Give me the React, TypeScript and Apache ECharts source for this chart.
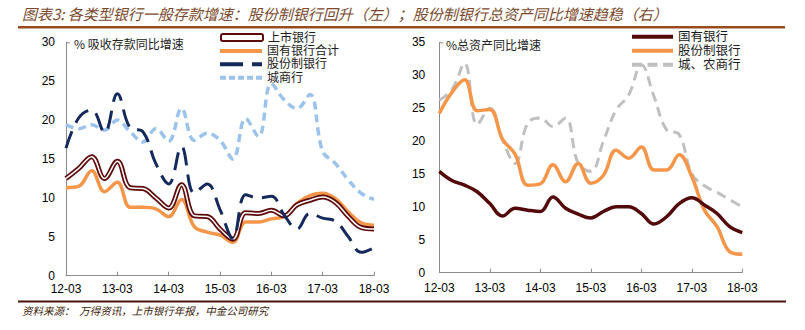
import React, { useEffect, useRef } from "react";
import * as echarts from "echarts";

const categories = [
  "12-03", "12-06", "12-09", "12-12",
  "13-03", "13-06", "13-09", "13-12",
  "14-03", "14-06", "14-09", "14-12",
  "15-03", "15-06", "15-09", "15-12",
  "16-03", "16-06", "16-09", "16-12",
  "17-03", "17-06", "17-09", "17-12",
  "18-03",
];

// Left panel: 吸收存款同比增速 (%)
const listedBanks = [12.5, 13.8, 15.3, 12.5, 14.7, 11.3, 11.2, 10.0, 8.7, 11.7, 7.7, 7.6, 6.0, 4.7, 8.1, 8.0, 8.4, 7.7, 9.1, 9.7, 10.1, 9.4, 7.6, 6.2, 6.0];
const stateOwnedTotal = [11.3, 11.5, 13.5, 10.8, 12.0, 8.8, 8.8, 8.6, 7.6, 9.8, 6.3, 5.6, 5.2, 4.3, 6.9, 6.9, 7.3, 7.6, 9.3, 10.3, 10.6, 9.9, 8.2, 6.8, 6.5];
const jointStockDeposit = [16.4, 20.3, 21.3, 18.4, 23.4, 19.0, 18.5, 14.4, 11.8, 16.6, 10.6, 11.8, 8.5, 4.8, 10.4, 10.0, 10.2, 7.8, 6.0, 8.0, 7.4, 7.0, 5.0, 3.0, 3.6];
const cityCommercial = [19.4, 18.9, 19.4, 18.7, 20.0, 18.5, 17.2, 18.9, 17.3, 21.5, 17.4, 18.3, 17.4, 15.0, 20.2, 17.9, 24.7, 22.6, 21.5, 23.3, 16.0, 14.4, 12.3, 10.6, 9.8];

// Right panel: 总资产同比增速 (%)
const stateOwnedAssets = [15.4, 14.0, 13.3, 12.3, 10.5, 8.6, 9.8, 9.5, 9.3, 11.5, 9.8, 8.9, 8.3, 9.3, 10.0, 10.0, 9.0, 7.4, 8.5, 10.5, 11.4, 10.3, 9.0, 7.0, 6.1];
const jointStockAssets = [24.2, 27.4, 29.3, 24.6, 24.8, 20.3, 18.0, 13.3, 13.5, 16.4, 13.8, 16.6, 13.6, 14.8, 18.6, 17.4, 19.1, 15.6, 15.6, 17.9, 14.6, 9.5, 7.0, 3.2, 2.8];
const cityRuralAssets = [26.2, 27.8, 31.8, 22.5, 25.0, 20.2, 16.6, 22.7, 23.5, 22.2, 23.5, 16.6, 15.4, 20.0, 24.7, 27.0, 31.6, 26.8, 21.7, 21.0, 15.0, 13.2, 12.2, 11.1, 10.0];

const TITLE = "图表3: 各类型银行一般存款增速：股份制银行回升（左）；股份制银行总资产同比增速趋稳（右）";
const SOURCE = "资料来源：  万得资讯，上市银行年报，中金公司研究";
const LEFT_NOTE = "% 吸收存款同比增速";
const RIGHT_NOTE = "%总资产同比增速";

const CJK = "'Noto Sans CJK SC', 'Noto Sans', sans-serif";
const LEG = "'Liberation Sans', 'Noto Sans CJK SC', sans-serif";
const NUM = "'Liberation Sans', Arial, sans-serif";

const C = {
  maroon: "#5c0a0a",
  maroonR: "#530909",
  orange: "#f5964a",
  navy: "#14295c",
  lightBlue: "#9cc3eb",
  grey: "#c0c0c0",
  axis: "#8c8c8c",
};

function legendItem(name: string, left: number, top: number, width: number, height: number, icon: string, itemStyle: any, fontSize: number) {
  return {
    orient: "vertical",
    left,
    top,
    padding: 0,
    itemWidth: width,
    itemHeight: height,
    selectedMode: false,
    symbolKeepAspect: false,
    textStyle: { fontSize, fontFamily: LEG, color: "#1a1a1a", lineHeight: fontSize },
    data: [{ name, icon, itemStyle }],
  };
}

function xAxis(gridIndex: number, margin: number) {
  return {
    type: "category",
    gridIndex,
    data: categories,
    boundaryGap: false,
    axisLine: { lineStyle: { color: C.axis, width: 1 } },
    axisTick: { show: true, inside: true, length: 4, interval: 3, lineStyle: { color: C.axis } },
    axisLabel: { interval: 3, fontSize: 12, color: "#000", fontFamily: NUM, margin },
    splitLine: { show: false },
  };
}

function yAxis(gridIndex: number, max: number, margin: number) {
  return {
    type: "value",
    gridIndex,
    min: 0,
    max,
    interval: 5,
    axisLine: { show: true, lineStyle: { color: C.axis, width: 1 } },
    axisTick: { show: false },
    axisLabel: { fontSize: 12, color: "#000", fontFamily: NUM, margin },
    splitLine: { show: false },
  };
}

function line(name: string, data: number[], idx: number, color: string, width: number, type: any, z = 2) {
  return {
    type: "line",
    name,
    data,
    xAxisIndex: idx,
    yAxisIndex: idx,
    smooth: 0.4,
    symbol: "none",
    showSymbol: false,
    z,
    itemStyle: { color },
    lineStyle: { color, width, type, cap: "butt", join: "round" },
    emphasis: { disabled: true },
  };
}

export default function App() {
  const ref = useRef<HTMLDivElement>(null);

  useEffect(() => {
    if (!ref.current) return;
    const chart = echarts.init(ref.current, null, { renderer: "svg" });
    const option: any = {
      animation: false,
      backgroundColor: "#ffffff",
      grid: [
        { left: 66, top: 42.3, width: 308, height: 233.4 },
        { left: 439.3, top: 42.3, width: 303, height: 230.4 },
      ],
      xAxis: [xAxis(0, 7), xAxis(1, 9)],
      yAxis: [yAxis(0, 30, 11), yAxis(1, 35, 14)],
      legend: [
        legendItem("上市银行", 220, 31.5, 42, 7, "roundRect", { color: "#ffffff", borderColor: C.maroon, borderWidth: 2 }, 12),
        legendItem("国有银行合计", 220, 44.9, 42, 4, "path://M0,0h42v4h-42z", { color: C.orange, borderWidth: 0 }, 12),
        legendItem("股份制银行", 220, 58.3, 42, 4, "path://M0,0h23v4h-23z M32,0h10v4h-10z", { color: C.navy, borderWidth: 0 }, 12),
        legendItem("城商行", 220, 71.7, 42, 4, "path://M0,0h6v4h-6z M9,0h6v4h-6z M18,0h6v4h-6z M27,0h6v4h-6z M36,0h6v4h-6z", { color: C.lightBlue, borderWidth: 0 }, 12),
        legendItem("国有银行", 632, 30.5, 41, 4, "path://M0,0h41v4h-41z", { color: C.maroonR, borderWidth: 0 }, 12.5),
        legendItem("股份制银行", 632, 44.5, 41, 4, "path://M0,0h41v4h-41z", { color: C.orange, borderWidth: 0 }, 12.5),
        legendItem("城、农商行", 632, 58.5, 41, 4, "path://M0,0h9v4h-9z M14,0h9v4h-9z M28,0h9v4h-9z", { color: C.grey, borderWidth: 0 }, 12.5),
      ],
      series: [
        line("城商行", cityCommercial, 0, C.lightBlue, 3.5, [8, 5], 2),
        line("国有银行合计", stateOwnedTotal, 0, C.orange, 3.5, "solid", 3),
        line("上市银行", listedBanks, 0, C.maroon, 5, "solid", 4),
        line("上市银行内线", listedBanks, 0, "#ffffff", 1.5, "solid", 5),
        line("股份制银行", jointStockDeposit, 0, C.navy, 3, [18, 9], 6),
        line("城、农商行", cityRuralAssets, 1, C.grey, 3, [10, 6], 2),
        line("股份制银行", jointStockAssets, 1, C.orange, 3.5, "solid", 3),
        line("国有银行", stateOwnedAssets, 1, C.maroonR, 3.5, "solid", 4),
      ],
      graphic: [
        {
          type: "text",
          left: 22,
          top: 6,
          style: { text: TITLE, fontSize: 15, fontStyle: "italic", fontFamily: CJK, fill: "#7b4a2e" },
        },
        { type: "rect", shape: { x: 18, y: 26, width: 767, height: 2.5 }, style: { fill: "#9b4a1c" } },
        { type: "rect", shape: { x: 18, y: 300.5, width: 768, height: 2 }, style: { fill: "#4b1010" } },
        {
          type: "text",
          left: 22,
          top: 305,
          style: { text: SOURCE, fontSize: 10.5, fontStyle: "italic", fontFamily: CJK, fill: "#3b1a0a" },
        },
        {
          type: "text",
          left: 74,
          top: 37,
          style: { text: LEFT_NOTE, fontSize: 12, fontFamily: CJK, fill: "#222" },
        },
        {
          type: "text",
          left: 446,
          top: 38,
          style: { text: RIGHT_NOTE, fontSize: 12, fontFamily: CJK, fill: "#222" },
        },
        { type: "line", shape: { x1: 66, y1: 42.8, x2: 70, y2: 42.8 }, style: { stroke: C.axis, lineWidth: 1 } },
        { type: "line", shape: { x1: 439.3, y1: 42.8, x2: 443.3, y2: 42.8 }, style: { stroke: C.axis, lineWidth: 1 } },
      ],
    };
    chart.setOption(option);
    return () => chart.dispose();
  }, []);

  return (
    <div
      ref={ref}
      style={{ position: "fixed", left: 0, top: 0, width: 805, height: 330, background: "#fff" }}
    />
  );
}
